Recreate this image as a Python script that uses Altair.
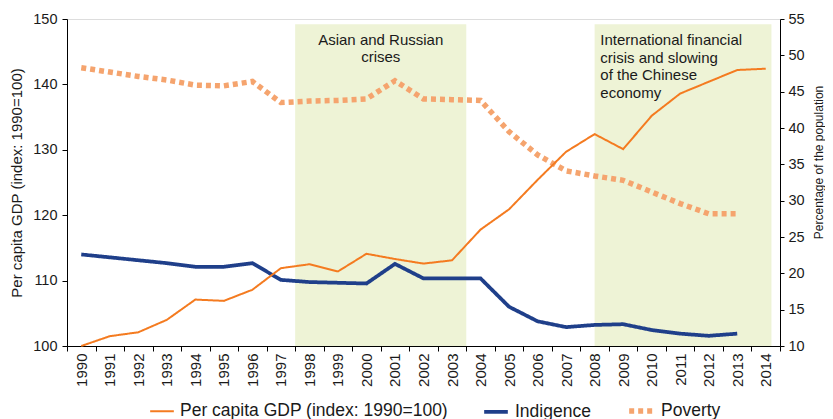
import altair as alt
import pandas as pd

years = list(range(1990, 2015))
gdp = [100.0, 101.5, 102.1, 104.0, 107.1, 106.9, 108.6, 111.9, 112.5, 111.4,
       114.1, 113.3, 112.6, 113.1, 117.8, 120.9, 125.4, 129.7, 132.4, 130.1,
       135.2, 138.6, 140.4, 142.2, 142.4]
pct_years = list(range(1990, 2014))
poverty = [48.3, 47.7, 47.1, 46.6, 45.9, 45.8, 46.4, 43.5, 43.7, 43.8,
           44.0, 46.5, 44.0, 43.9, 43.8, 39.5, 36.3, 34.1, 33.4, 32.8,
           31.2, 29.6, 28.2, 28.2]
indigence = [22.6, 22.2, 21.8, 21.4, 20.9, 20.9, 21.4, 19.1, 18.8, 18.7,
             18.6, 21.3, 19.3, 19.3, 19.3, 15.4, 13.4, 12.6, 12.9, 13.0,
             12.2, 11.7, 11.4, 11.7]

series_names = ["Per capita GDP (index: 1990=100)", "Indigence", "Poverty"]
series_colors = ["#F47B20", "#1F3F8A", "#F5A46E"]
series_dash = [[1, 0], [1, 0], [5, 4]]
series_width = [2, 5.5, 5]

shade_start = [1997.5, 2008.0]
shade_end = [2003.5, 2014.2]
shade_bottom = [100, 100]
shade_top = [149.2, 149.2]

note1 = ["Asian and Russian", "crises"]
note2 = ["International financial", "crisis and slowing", "of the Chinese", "economy"]

FONT = "Liberation Sans"
TXT = "#1a1a1a"

rows = []
for y, v in zip(years, gdp):
    rows.append({"year": y, "series": series_names[0], "value": v})
for y, v in zip(pct_years, indigence):
    rows.append({"year": y, "series": series_names[1], "value": v})
for y, v in zip(pct_years, poverty):
    rows.append({"year": y, "series": series_names[2], "value": v})
df = pd.DataFrame(rows)

shade_df = pd.DataFrame({"start": shade_start, "end": shade_end,
                         "bottom": shade_bottom, "top": shade_top})
notes_df1 = pd.DataFrame({"x": [2000.5], "y": [147.85], "t": ["\n".join(note1)]})
notes_df2 = pd.DataFrame({"x": [2008.2], "y": [147.85], "t": ["\n".join(note2)]})

xq_scale = alt.Scale(domain=[1989.5, 2014.5], nice=False, zero=False)
yq_scale = alt.Scale(domain=[100, 150], nice=False, zero=False)

legend = alt.Legend(title=None, orient="none", legendX=82, legendY=377,
                    direction="horizontal", symbolType="stroke", symbolSize=560,
                    labelFontSize=17.5, labelFont=FONT, labelColor=TXT,
                    labelLimit=400, labelOffset=5, columnPadding=27, padding=0)

color = alt.Color("series:N", sort=series_names,
                  scale=alt.Scale(domain=series_names, range=series_colors), legend=legend)
dash = alt.StrokeDash("series:N", sort=series_names,
                      scale=alt.Scale(domain=series_names, range=series_dash), legend=legend)
width = alt.StrokeWidth("series:N", sort=series_names,
                        scale=alt.Scale(domain=series_names, range=series_width), legend=legend)

band_scale = alt.Scale(type="band", domain=years, paddingInner=0, paddingOuter=0)

x_axis = alt.Axis(title=None, labelAngle=270, tickBand="extent", tickSize=5,
                  labelPadding=2, labelFontSize=15, labelFont=FONT, labelColor=TXT,
                  domainColor="#000000", tickColor="#000000", grid=False)

shade = alt.Chart(shade_df).mark_rect(color="#EEF3D6").encode(
    x=alt.X("start:Q", scale=xq_scale, axis=None),
    x2="end:Q",
    y=alt.Y("bottom:Q", scale=yq_scale, axis=None),
    y2="top:Q",
)

text1 = alt.Chart(notes_df1).mark_text(
    align="center", baseline="top", fontSize=15, font=FONT, color=TXT,
    lineBreak="\n", lineHeight=16.5,
).encode(
    x=alt.X("x:Q", scale=xq_scale, axis=None),
    y=alt.Y("y:Q", scale=yq_scale, axis=None),
    text="t:N",
)

text2 = alt.Chart(notes_df2).mark_text(
    align="left", baseline="top", fontSize=15, font=FONT, color=TXT,
    lineBreak="\n", lineHeight=17.5,
).encode(
    x=alt.X("x:Q", scale=xq_scale, axis=None),
    y=alt.Y("y:Q", scale=yq_scale, axis=None),
    text="t:N",
)

gdp_line = alt.Chart(df).transform_filter(
    alt.datum.series == series_names[0]
).mark_line().encode(
    x=alt.X("year:O", scale=band_scale, bandPosition=0.5, axis=x_axis),
    y=alt.Y("value:Q", scale=yq_scale,
            axis=alt.Axis(orient="left", title=series_names[0], values=[100, 110, 120, 130, 140, 150],
                          tickSize=5, labelPadding=5, labelFontSize=14.5, labelFont=FONT,
                          labelColor=TXT, titleFont=FONT, titleFontSize=15,
                          titleFontWeight="normal", titleColor=TXT, titlePadding=8,
                          domainColor="#000000", tickColor="#000000", grid=False)),
    color=color, strokeDash=dash, strokeWidth=width,
)

pct_lines = alt.Chart(df).transform_filter(
    alt.datum.series != series_names[0]
).mark_line().encode(
    x=alt.X("year:O", scale=band_scale, bandPosition=0.5, axis=None),
    y=alt.Y("value:Q", scale=alt.Scale(domain=[10, 55], nice=False, zero=False),
            axis=alt.Axis(orient="right", title="Percentage of the population",
                          values=list(range(10, 60, 5)),
                          tickSize=4, labelPadding=4, labelFontSize=14.5, labelFont=FONT,
                          labelColor=TXT, titleFont=FONT, titleFontSize=12,
                          titleFontWeight="normal", titleColor=TXT, titlePadding=21,
                          titleAngle=270, titleY=143,
                          domainColor="#000000", tickColor="#000000", grid=False)),
    color=color, strokeDash=dash, strokeWidth=width,
)

chart = alt.layer(shade, text1, text2, pct_lines, gdp_line).resolve_scale(
    x="independent", y="independent"
).properties(
    width=713, height=327,
    autosize=alt.AutoSizeParams(type="none"),
    padding={"left": 59, "top": 11, "right": 45, "bottom": 73},
).configure_view(stroke=None).configure(background="#ffffff")

chart.save("out.html", embed_options={"renderer": "svg", "actions": False})
